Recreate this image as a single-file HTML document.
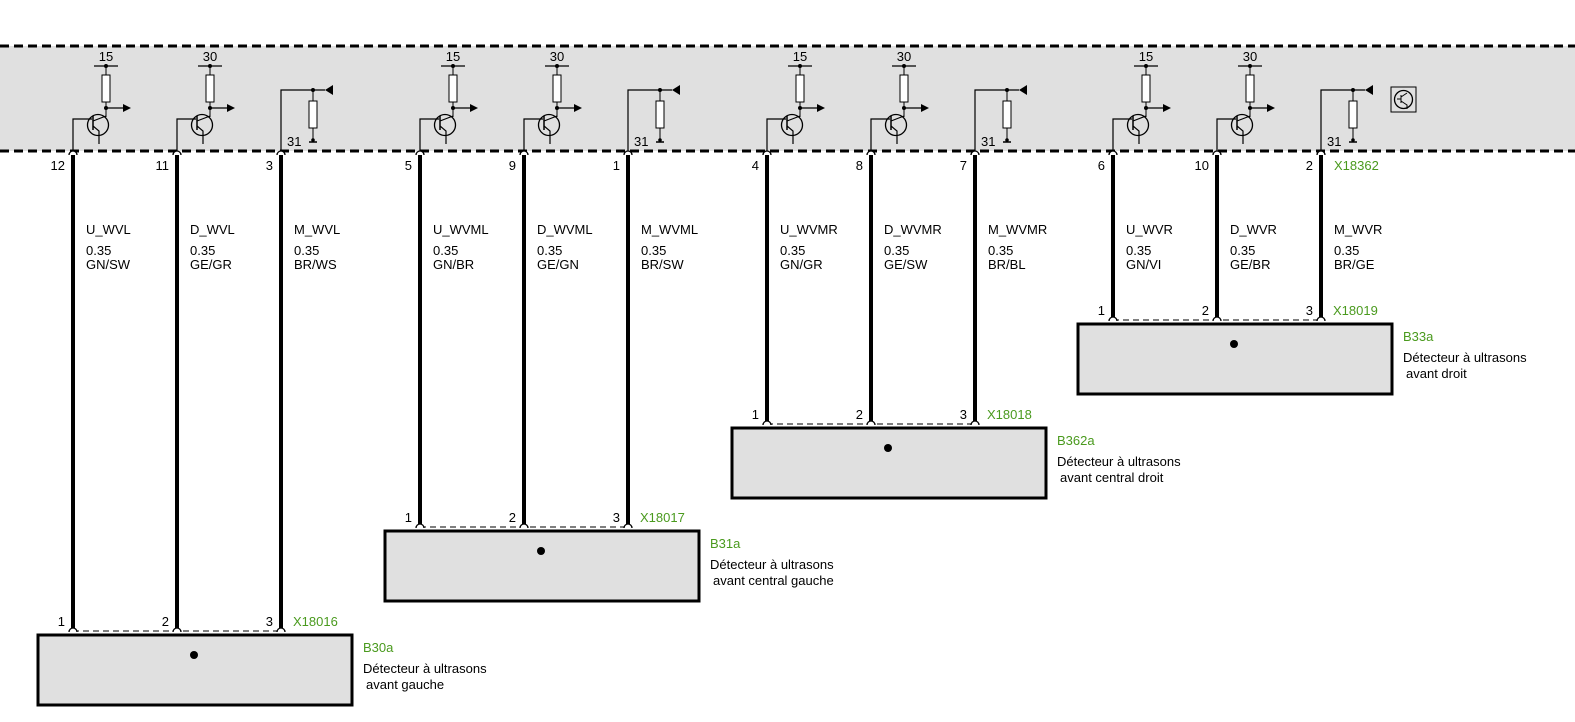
<!DOCTYPE html>
<html><head><meta charset="utf-8"><style>
html,body{margin:0;padding:0;background:#fff;}
svg{display:block;font-family:"Liberation Sans",Arial,sans-serif;}
.t{font-size:13px;fill:#000;}
.g{font-size:13px;fill:#4a9a1e;}
</style></head><body>
<svg width="1575" height="722" viewBox="0 0 1575 722" xmlns="http://www.w3.org/2000/svg">
<rect x="0" y="46" width="1575" height="105" fill="#e0e0e0"/>
<line x1="0" y1="46" x2="1575" y2="46" stroke="#000" stroke-width="3" stroke-dasharray="9,5"/>
<line x1="0" y1="151" x2="1575" y2="151" stroke="#000" stroke-width="3" stroke-dasharray="9,5"/>
<g id="all"></g>
<rect x="1391" y="87" width="25" height="25" fill="none" stroke="#000" stroke-width="1"/>
<circle cx="1403.5" cy="99.5" r="9" fill="none" stroke="#000" stroke-width="1.3"/>
<path d="M1397,99 h4 M1401,95 v8 M1401,97 l6,-4 M1401,101 l6,4 v4" stroke="#000" stroke-width="1" fill="none"/>
</svg>
<script>
const G=document.getElementById('all');
let s='';
const groups=[
 {w:[73,177,281],top:[12,11,3],names:['U_WVL','D_WVL','M_WVL'],cols:['GN/SW','GE/GR','BR/WS'],by:635,conn:'X18016',b:'B30a',d2:'avant gauche'},
 {w:[420,524,628],top:[5,9,1],names:['U_WVML','D_WVML','M_WVML'],cols:['GN/BR','GE/GN','BR/SW'],by:531,conn:'X18017',b:'B31a',d2:'avant central gauche'},
 {w:[767,871,975],top:[4,8,7],names:['U_WVMR','D_WVMR','M_WVMR'],cols:['GN/GR','GE/SW','BR/BL'],by:428,conn:'X18018',b:'B362a',d2:'avant central droit'},
 {w:[1113,1217,1321],top:[6,10,2],names:['U_WVR','D_WVR','M_WVR'],cols:['GN/VI','GE/BR','BR/GE'],by:324,conn:'X18019',b:'B33a',d2:'avant droit'}];
groups.forEach(g=>{
 const by=g.by,dy=by-4;
 s+=`<rect x="${g.w[0]-35}" y="${by}" width="314" height="70" fill="#e0e0e0" stroke="#000" stroke-width="3"/>`;
 s+=`<circle cx="${g.w[1]+17}" cy="${by+20}" r="4" fill="#000"/>`;
 s+=`<line x1="${g.w[0]}" y1="${dy}" x2="${g.w[2]}" y2="${dy}" stroke="#000" stroke-width="1" stroke-dasharray="6,4"/>`;
 s+=`<text class="g" x="${g.w[2]+12}" y="${dy-5}">${g.conn}</text>`;
 s+=`<text class="g" x="${g.w[2]+82}" y="${by+17}">${g.b}</text>`;
 s+=`<text class="t" x="${g.w[2]+82}" y="${by+38}">Détecteur à ultrasons</text>`;
 s+=`<text class="t" x="${g.w[2]+85}" y="${by+54}">${g.d2}</text>`;
 g.w.forEach((w,i)=>{
  s+=`<line x1="${w}" y1="155" x2="${w}" y2="${dy-2}" stroke="#000" stroke-width="4"/>`;
  s+=`<path d="M${w-4},155 A4,4 0 0 1 ${w+4},155" fill="#fff" stroke="#000" stroke-width="1.3"/>`;
  s+=`<path d="M${w-4},${dy+1} A4,4 0 0 1 ${w+4},${dy+1}" fill="#fff" stroke="#000" stroke-width="1.3"/>`;
  s+=`<text class="t" x="${w-8}" y="170" text-anchor="end">${g.top[i]}</text>`;
  s+=`<text class="t" x="${w-8}" y="${dy-5}" text-anchor="end">${i+1}</text>`;
  s+=`<text class="t" x="${w+13}" y="234">${g.names[i]}</text>`;
  s+=`<text class="t" x="${w+13}" y="255">0.35</text>`;
  s+=`<text class="t" x="${w+13}" y="269">${g.cols[i]}</text>`;
  if(i<2){
   const rx=w+33;
   s+=`<text class="t" x="${rx}" y="61" text-anchor="middle">${i==0?15:30}</text>`;
   s+=`<line x1="${rx-12}" y1="66" x2="${rx+12}" y2="66" stroke="#000" stroke-width="1.3"/>`;
   s+=`<circle cx="${rx}" cy="66" r="2" fill="#000"/>`;
   s+=`<line x1="${rx}" y1="66" x2="${rx}" y2="117" stroke="#000" stroke-width="1"/>`;
   s+=`<rect x="${rx-4}" y="75" width="8" height="27" fill="#fff" stroke="#000" stroke-width="1"/>`;
   s+=`<circle cx="${rx}" cy="108" r="2" fill="#000"/>`;
   s+=`<line x1="${rx}" y1="108" x2="${rx+18}" y2="108" stroke="#000" stroke-width="1.3"/>`;
   s+=`<path d="M${rx+17},104 L${rx+25},108 L${rx+17},112Z" fill="#000"/>`;
   s+=`<circle cx="${w+25}" cy="125" r="10.5" fill="none" stroke="#000" stroke-width="1.3"/>`;
   s+=`<path d="M${w},151 V119 H${w+19}" fill="none" stroke="#000" stroke-width="1.2"/>`;
   s+=`<line x1="${w+20}" y1="116" x2="${w+20}" y2="130" stroke="#000" stroke-width="1.5"/>`;
   s+=`<path d="M${w+20},121 L${rx},116 M${w+20},126 L${w+26},131 V144" fill="none" stroke="#000" stroke-width="1.2"/>`;
  } else {
   s+=`<path d="M${w},151 V90 H${w+44}" fill="none" stroke="#000" stroke-width="1.2"/>`;
   s+=`<path d="M${w+44},90 L${w+52},85 L${w+52},95Z" fill="#000"/>`;
   s+=`<circle cx="${w+32}" cy="90" r="2" fill="#000"/>`;
   s+=`<line x1="${w+32}" y1="90" x2="${w+32}" y2="142" stroke="#000" stroke-width="1"/>`;
   s+=`<rect x="${w+28}" y="101" width="8" height="27" fill="#fff" stroke="#000" stroke-width="1"/>`;
   s+=`<line x1="${w+28}" y1="142" x2="${w+36}" y2="142" stroke="#000" stroke-width="1.5"/>`;
   s+=`<circle cx="${w+32}" cy="140" r="1.8" fill="#000"/>`;
   s+=`<text class="t" x="${w+6}" y="146">31</text>`;
  }
 });
});
s+=`<text class="g" x="1334" y="170">X18362</text>`;
G.innerHTML=s;
</script>
</body></html>
